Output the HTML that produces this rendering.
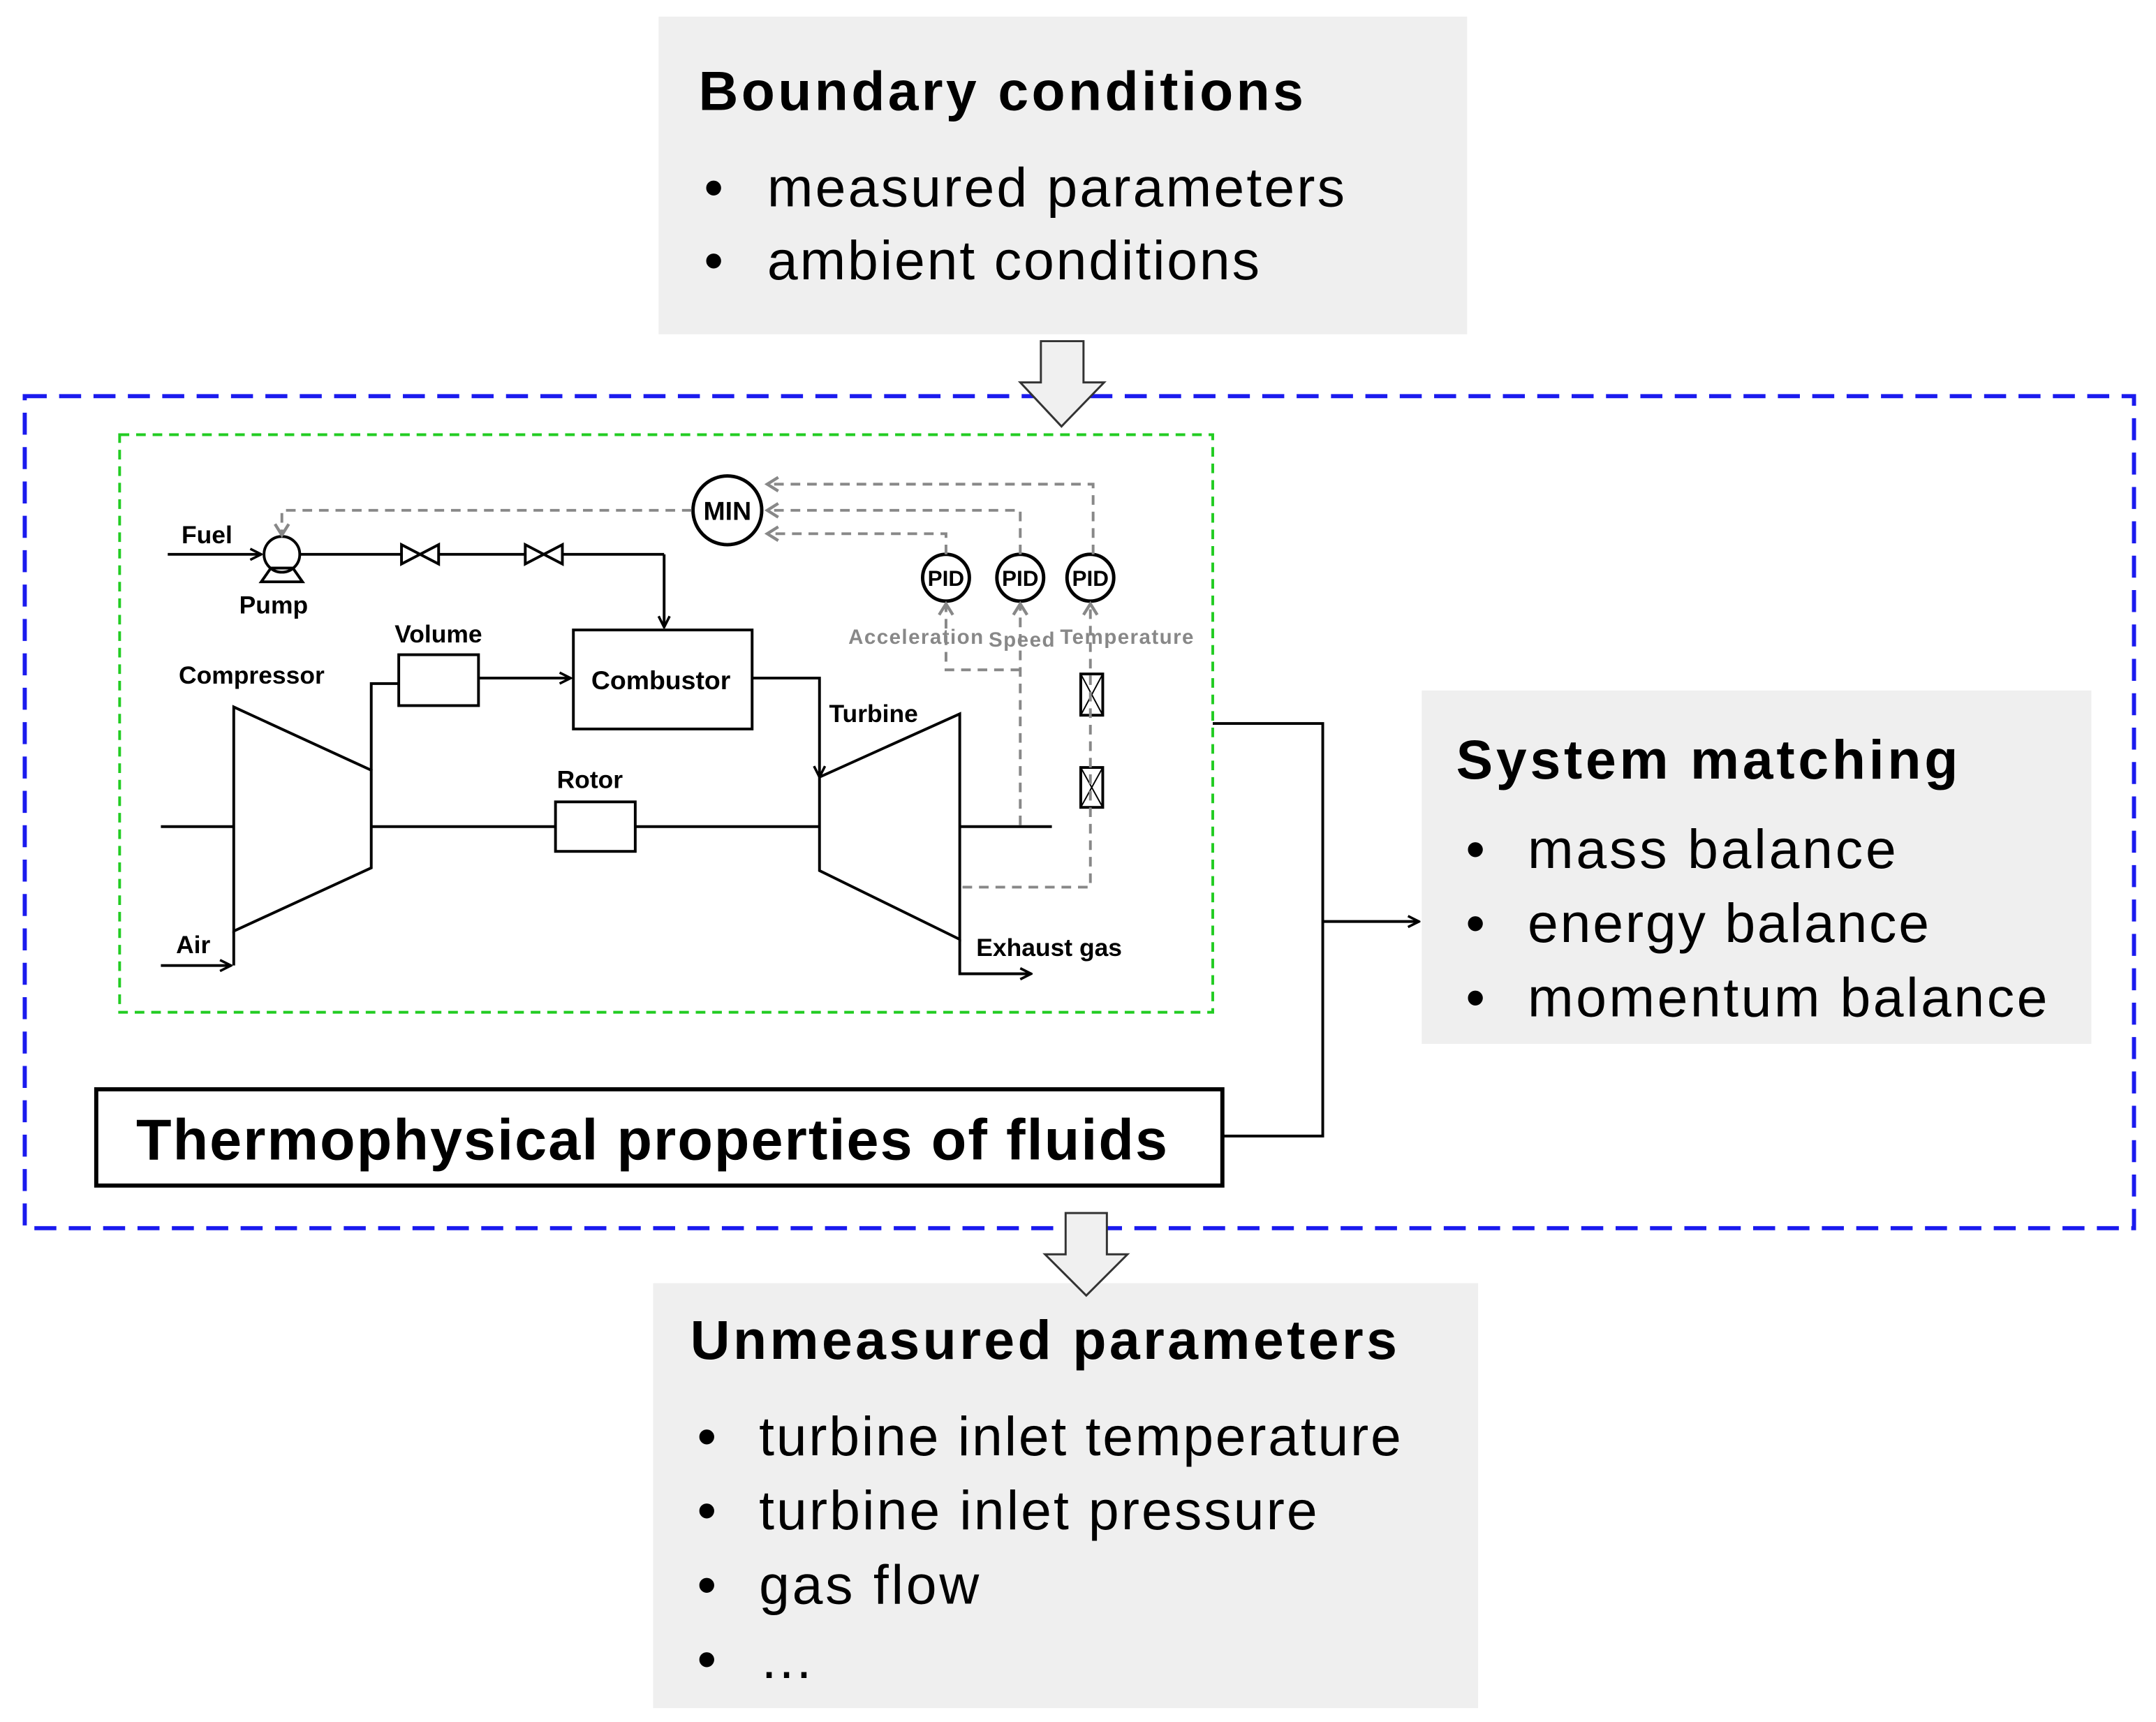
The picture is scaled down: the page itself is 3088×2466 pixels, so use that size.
<!DOCTYPE html>
<html><head><meta charset="utf-8"><style>html,body{margin:0;padding:0;background:#fff}svg{display:block}</style></head>
<body>
<svg width="3088" height="2466" viewBox="0 0 1568 1252" xmlns="http://www.w3.org/2000/svg" font-family="Liberation Sans, Arial, sans-serif">
<defs>
<marker id="ab" markerWidth="10" markerHeight="10" refX="9" refY="5" orient="auto" markerUnits="userSpaceOnUse"><path d="M1,1 L9,5 L1,9" fill="none" stroke="#000" stroke-width="1.8"/></marker>
<marker id="ag2" markerWidth="12" markerHeight="12" refX="10" refY="6" orient="auto" markerUnits="userSpaceOnUse"><path d="M2,1 L10,6 L2,11" fill="none" stroke="#888" stroke-width="2.2" stroke-dasharray="none"/></marker>
</defs>
<rect x="479" y="12" width="588" height="231" fill="#efefef"/>
<text x="508" y="80" font-size="40" font-weight="bold" textLength="440">Boundary conditions</text>
<text x="512" y="150" font-size="40">•</text><text x="558" y="150" font-size="40" textLength="420">measured parameters</text>
<text x="512" y="203" font-size="40">•</text><text x="558" y="203" font-size="40" textLength="358">ambient conditions</text>
<rect x="18" y="288" width="1534" height="605" fill="none" stroke="#1a1aee" stroke-width="3" stroke-dasharray="16,9"/>
<path d="M757,248 H788 V278 H803 L772,310 L742,278 H757 Z" fill="#f0f0f0" stroke="#333" stroke-width="1.5"/>
<rect x="87" y="316" width="795" height="420" fill="none" stroke="#22cc22" stroke-width="2" stroke-dasharray="7,5"/>
<g stroke="#000" stroke-width="2" fill="none">
<line x1="122" y1="403" x2="190" y2="403" marker-end="url(#ab)"/>
<circle cx="205" cy="403" r="13" fill="#fff"/>
<path d="M197,413 L213,413 L220,423 L190,423 Z"/>
<line x1="218" y1="403" x2="483" y2="403"/>
<path d="M483,403 V456" marker-end="url(#ab)"/>
<path d="M292,396 L292,410 L319,396 L319,410 Z" fill="#fff"/>
<path d="M382,396 L382,410 L409,396 L409,410 Z" fill="#fff"/>
<path d="M170,514 L270,560 L270,631 L170,677 Z"/>
<line x1="170" y1="677" x2="170" y2="702"/>
<line x1="117" y1="702" x2="168" y2="702" marker-end="url(#ab)"/>
<path d="M270,560 V497 H290"/>
<rect x="290" y="476" width="58" height="37"/>
<line x1="348" y1="493" x2="415" y2="493" marker-end="url(#ab)"/>
<rect x="417" y="458" width="130" height="72"/>
<path d="M547,493 H596 V565" marker-end="url(#ab)"/>
<path d="M596,565 L698,519 L698,683 L596,633 Z"/>
<path d="M698,683 V708 H750" marker-end="url(#ab)"/>
<line x1="117" y1="601" x2="170" y2="601"/>
<line x1="270" y1="601" x2="404" y2="601"/>
<rect x="404" y="583" width="58" height="36"/>
<line x1="462" y1="601" x2="596" y2="601"/>
<line x1="698" y1="601" x2="765" y2="601"/>
<circle cx="529" cy="371" r="25" fill="#fff" stroke-width="2.5"/>
<circle cx="688" cy="420" r="17" fill="#fff" stroke-width="2.5"/>
<circle cx="742" cy="420" r="17" fill="#fff" stroke-width="2.5"/>
<circle cx="793" cy="420" r="17" fill="#fff" stroke-width="2.5"/>
<rect x="786" y="490" width="16" height="30"/>
<path d="M786,490 L802,520 M802,490 L786,520" stroke-width="1"/>
<rect x="786" y="558" width="16" height="29"/>
<path d="M786,558 L802,587 M802,558 L786,587" stroke-width="1"/>
</g>
<g stroke="#888" stroke-width="2" fill="none" stroke-dasharray="7,5">
<path d="M503,371 H205 V389" marker-end="url(#ag2)"/>
<path d="M795,403 V352 H558" marker-end="url(#ag2)"/>
<path d="M742,403 V371 H558" marker-end="url(#ag2)"/>
<path d="M688,403 V388 H558" marker-end="url(#ag2)"/>
<path d="M742,487 H688 V439" marker-end="url(#ag2)"/>
<path d="M742,600 V439" marker-end="url(#ag2)"/>
<path d="M700,645 H793 V439" marker-end="url(#ag2)"/>
</g>
<g font-weight="bold" font-size="18" fill="#000">
<text x="132" y="395">Fuel</text>
<text x="174" y="446">Pump</text>
<text x="287" y="467">Volume</text>
<text x="130" y="497">Compressor</text>
<text x="430" y="501" font-size="19">Combustor</text>
<text x="603" y="525">Turbine</text>
<text x="405" y="573">Rotor</text>
<text x="128" y="693">Air</text>
<text x="710" y="695">Exhaust gas</text>
<text x="529" y="378" font-size="19" text-anchor="middle">MIN</text>
<text x="688" y="426" font-size="16" text-anchor="middle">PID</text>
<text x="742" y="426" font-size="16" text-anchor="middle">PID</text>
<text x="793" y="426" font-size="16" text-anchor="middle">PID</text>
</g>
<g font-weight="bold" font-size="15" fill="#888">
<text x="617" y="468" textLength="98">Acceleration</text>
<text x="719" y="470" textLength="48">Speed</text>
<text x="771" y="468" textLength="97">Temperature</text>
</g>
<path d="M882,526 H962 V826 H890" fill="none" stroke="#000" stroke-width="2"/>
<line x1="962" y1="670" x2="1032" y2="670" stroke="#000" stroke-width="2" marker-end="url(#ab)"/>
<rect x="1034" y="502" width="487" height="257" fill="#efefef"/>
<text x="1059" y="566" font-size="40" font-weight="bold" textLength="365">System matching</text>
<text x="1066" y="631" font-size="40">•</text><text x="1111" y="631" font-size="40" textLength="268">mass balance</text>
<text x="1066" y="685" font-size="40">•</text><text x="1111" y="685" font-size="40" textLength="292">energy balance</text>
<text x="1066" y="739" font-size="40">•</text><text x="1111" y="739" font-size="40" textLength="378">momentum balance</text>
<rect x="70" y="792" width="819" height="70" fill="#fff" stroke="#000" stroke-width="3"/>
<text x="99" y="843" font-size="42" font-weight="bold" textLength="750">Thermophysical properties of fluids</text>
<rect x="475" y="933" width="600" height="309" fill="#efefef"/>
<path d="M775,882 H805 V912 H820 L790,942 L760,912 H775 Z" fill="#f0f0f0" stroke="#333" stroke-width="1.5"/>
<text x="502" y="988" font-size="40" font-weight="bold" textLength="514">Unmeasured parameters</text>
<text x="507" y="1058" font-size="40">•</text><text x="552" y="1058" font-size="40" textLength="467">turbine inlet temperature</text>
<text x="507" y="1112" font-size="40">•</text><text x="552" y="1112" font-size="40" textLength="406">turbine inlet pressure</text>
<text x="507" y="1166" font-size="40">•</text><text x="552" y="1166" font-size="40" textLength="160">gas flow</text>
<text x="507" y="1220" font-size="40">•</text><text x="552" y="1220" font-size="40">…</text>
</svg>
</body></html>
